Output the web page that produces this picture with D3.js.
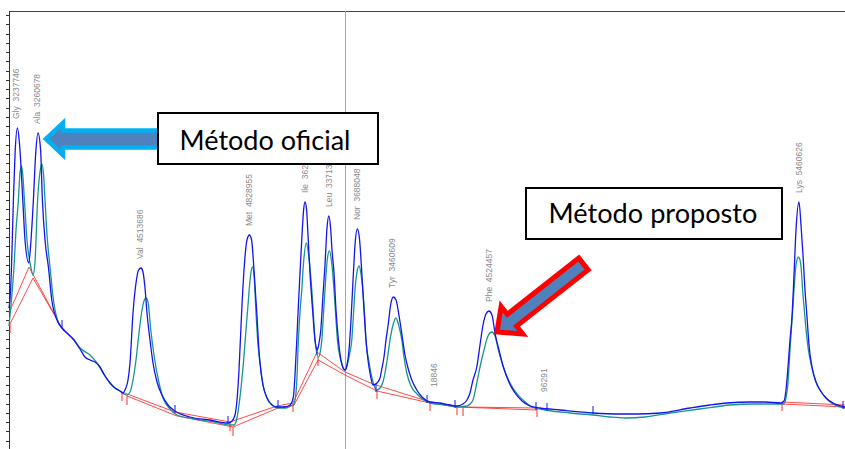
<!DOCTYPE html>
<html><head><meta charset="utf-8">
<script src="https://cdn.jsdelivr.net/npm/d3@7"></script>
<style>html,body{margin:0;padding:0;background:#fff;overflow:hidden}</style>
</head><body>
<svg id="c" width="845" height="449"></svg>
<script>
// ---- DATA (retention time in min, signal in mV) ----
const blueTrace = [[0,70.5],[0.08,79.5],[0.15,99.5],[0.22,124.5],[0.30,147],[0.42,160.5],[0.53,152],[0.69,124.5],[0.80,104.5],[0.99,93],
[1.10,104.5],[1.22,124.5],[1.33,147],[1.45,158],[1.58,149.5],[1.67,124.5],[1.80,104.5],[1.97,91],[2.14,74.5],[2.40,64.5],[2.65,60.5],
[2.90,58],[3.25,54.5],[3.55,50],[3.80,46],[4.05,44.5],[4.30,43.5],[4.55,41],[4.80,36.5],[5.05,33],[5.30,30.5],[5.55,29],[5.70,28],
[5.80,29.5],[5.95,34.5],[6.05,43],[6.20,68],[6.35,83],[6.48,89.5],[6.60,90.5],[6.70,88.5],[6.80,80.5],[6.90,68],[7.05,54.5],[7.20,43],
[7.40,33.5],[7.65,27],[7.95,22],[8.30,19],[9.05,16],[10.05,14.5],[10.95,13],
[11.15,14],[11.30,17],[11.40,24.5],[11.50,39.5],[11.63,68],[11.75,89.5],[11.90,104.5],[12.02,107],[12.13,104.5],[12.25,89.5],[12.39,68],
[12.48,52],[12.55,43],[12.70,32],[12.90,25.5],[13.15,22],[13.40,21],[13.80,21],[14.05,22],
[14.15,23.5],[14.23,27],[14.30,37],[14.39,54.5],[14.47,72],[14.55,88],[14.65,107],[14.73,119.5],[14.80,123.5],[14.88,119.5],[14.95,107],
[15.05,88],[15.18,69.5],[15.30,54.5],[15.42,49.5],
[15.50,53],[15.59,59.5],[15.70,77],[15.80,92],[15.90,110.5],[15.99,116.5],[16.08,110.5],[16.15,99.5],[16.25,88],[16.35,69.5],[16.47,54.5],
[16.60,44.5],[16.70,40.5],[16.80,39.5],
[16.90,42],[17.00,49.5],[17.10,64.5],[17.22,88],[17.30,102],[17.42,110],[17.53,104.5],[17.64,88],[17.75,69.5],[17.85,54.5],[17.95,44.5],
[18.05,38],[18.20,32],
[18.40,33],[18.55,35.5],[18.65,40.5],[18.75,46],[18.85,54.5],[18.97,63],[19.08,72],[19.22,76],[19.35,74.5],[19.52,65.5],[19.65,57],
[19.80,47],[19.95,40.5],[20.14,34.5],[20.39,29.5],[20.65,26],[21.05,23.5],[21.55,23],[22.05,22],[22.40,21.5],[22.70,22.5],
[22.90,24.5],[23.05,28],[23.20,34.5],[23.39,41],[23.55,52],[23.70,62],[23.85,67.5],[24.00,69],[24.15,67],[24.30,58],[24.50,49.5],
[24.72,41],[24.95,34.5],[25.30,28],[25.65,24],[26.05,21.5],[26.55,20.5],[27.55,19.5],[29.20,18],[30.55,17.5],[31.35,17.5],[32.55,18],
[34.05,20.5],[35.05,22],[35.90,23],[37.05,23.5],[37.80,23.5],[38.60,23],
[38.75,24],[38.85,29.5],[38.95,41],[39.05,54.5],[39.15,66],[39.25,87],[39.35,109.5],[39.50,123.5],[39.60,112],[39.70,97],[39.80,79.5],
[39.90,66],[40.00,52],[40.15,41],[40.35,33.5],[40.55,29.5],[40.85,25.5],[41.20,23],[41.80,21]];

const greenTrace = [[0,61.5],[0.10,72],[0.25,91],[0.35,109.5],[0.47,124.5],[0.54,137],[0.62,141.5],[0.69,137],[0.77,124.5],[0.90,104.5],
[1.09,91],[1.20,87],[1.30,93.5],[1.43,124.5],[1.55,138.5],[1.64,142.5],[1.73,137],[1.80,124.5],[1.90,107],[2.05,91],[2.22,74.5],
[2.42,64.5],[2.65,60.5],[2.90,58],[3.25,54.5],[3.55,50.5],[4.05,47],[4.40,43],[4.80,36.5],[5.05,33],[5.30,30.5],[5.55,29],[5.75,27.5],
[5.90,27],
[6.05,28.5],[6.20,34.5],[6.35,44.5],[6.50,58],[6.65,69.5],[6.75,74],[6.85,75.5],[6.95,73.5],[7.09,59.5],[7.25,47],[7.47,34.5],[7.70,25.5],
[8.05,20],[8.40,17],[9.30,15],[10.30,13.5],[11.05,12],
[11.25,12],[11.40,15.5],[11.55,26],[11.72,43],[11.85,59.5],[11.95,72],[12.08,87],[12.17,91],[12.25,87],[12.35,68],[12.45,52],[12.55,43],
[12.70,32],[12.90,25.5],[13.15,22],[13.45,20.5],[13.85,20.5],[14.10,21.5],
[14.22,22],[14.30,24.5],[14.38,32],[14.47,54.5],[14.55,68.5],[14.64,79.5],[14.73,93.5],[14.87,103],[14.98,97],[15.14,79.5],[15.23,65.5],
[15.30,54.5],[15.47,46],
[15.58,49.5],[15.64,54.5],[15.73,68.5],[15.80,79.5],[15.90,93.5],[16.02,99],[16.13,93.5],[16.25,79.5],[16.35,64.5],[16.42,54.5],[16.55,46],
[16.68,41.5],[16.80,39.5],
[16.95,43.5],[17.05,48.5],[17.14,54.5],[17.23,68.5],[17.30,79.5],[17.40,88.5],[17.50,91.5],[17.60,87.5],[17.69,79.5],[17.78,67],[17.85,54.5],
[18.00,43.5],[18.15,35.5],[18.39,29.5],
[18.55,30.5],[18.70,33.5],[18.80,38],[18.93,46],[19.05,54.5],[19.20,62],[19.34,65.5],[19.48,62],[19.64,54.5],[19.75,46],[19.89,38],
[20.10,31.5],[20.40,27.5],[20.75,24.5],[21.05,23],[21.80,22],[22.40,21],[22.90,21.5],
[23.05,22.5],[23.20,24.5],[23.39,33],[23.55,41],[23.75,49.5],[23.95,56.5],[24.14,58.5],[24.30,56.5],[24.47,49.5],[24.70,41.5],[25.05,33],
[25.40,27.5],[25.75,24],[26.15,21],[26.80,19.5],[28.05,18],[29.20,17],[30.05,16],[30.80,15.5],[31.80,16],[33.05,18],[34.55,20],
[36.05,22],[37.25,22.5],[38.05,22.5],[38.75,22.5],
[38.85,25.5],[38.95,33],[39.05,49.5],[39.15,64.5],[39.25,79.5],[39.35,92],[39.47,96],[39.58,93],[39.70,77],[39.83,62],[39.97,49.5],
[40.15,40.5],[40.35,33.5],[40.55,29.5],[40.85,25.5],[41.20,22.5],[41.80,20.5]];

// integration baselines (segments)
const baselineBlue = [
  [[0,68],[1.0,91],[2.45,64]],
  [[5.65,28.5],[8.3,18.5],[11.05,13.5],[13.4,21.5],[14.2,23],[15.4,48.5],[16.8,38.5],[18.2,32.5],[21.05,23.5],[22.4,21.5]],
  [[22.7,21],[26.4,20.5]],
  [[38.65,23.5],[41.8,22]]
];
const baselineGreen = [
  [[0.05,62.5],[1.2,85.5],[2.65,60.5]],
  [[5.9,26.5],[8.4,16.5],[11.2,11],[13.45,20.5],[14.25,22],[15.45,44.5],[16.8,37],[18.4,29],[21.05,23],[22.4,21]],
  [[22.4,21],[26.4,19.5]],
  [[38.65,22.5],[41.8,21]]
];
const baselineMarks = [[0.05,62.5],[5.65,28.5],[5.9,26.5],[11.05,13.5],[11.2,11],[14.2,23],[15.45,46],[18.4,29.5],[21.05,23.5],[22.4,21.5],[22.7,21],[26.4,20.5],[38.65,23.5]];
const peakMarks = [[2.65,61],[8.3,18.5],[10.95,13],[13.45,21],[15.4,47.5],[18.35,29],[20.9,23.5],[22.3,21],[26.35,20],[26.9,19.5],[29.2,18],[41.7,20.5]];

const peakNames  = ["Gly","Ala","Val","Met","Ile","Leu","Nor","","Tyr","Phe","","Lys"];
const peakAreas  = ["3237746","3260678","4513686","4828955","3627418","3371305","3688048","18846","3460609","4524457","96291","5460626"];
const peakTimes  = [0.37,1.42,6.57,12.0,14.8,16.0,17.42,21.25,19.17,24.0,26.75,39.5];
const peakHeights= [160.5,158,90.5,107,123.5,116.5,110,26.5,76,69,24,123.5];

const cursorTime = 16.83;
const calloutTexts = ["Método oficial","Método proposto"];

// ---- DRAW ----
const svg = d3.select("#c");
const x = d3.scaleLinear().domain([0,41.8]).range([9,845]);
const y = d3.scaleLinear().domain([0,219]).range([449,11]);

// frame top
svg.append("line").attr("x1",x(0)).attr("x2",x(41.8)).attr("y1",y(219)).attr("y2",y(219))
  .attr("stroke","#444").attr("stroke-width",1).attr("shape-rendering","crispEdges");

// left axis
const yAxis = d3.axisLeft(y).tickValues(d3.range(217,0,-4.625)).tickSize(3).tickSizeOuter(0).tickFormat("");
const ga = svg.append("g").attr("transform",`translate(${x(0)},0)`).call(yAxis);
ga.selectAll("path,line").attr("stroke","#333").attr("shape-rendering","crispEdges");

// cursor line
svg.append("line").attr("x1",x(cursorTime)).attr("x2",x(cursorTime)).attr("y1",y(219)).attr("y2",y(0))
  .attr("stroke","#a6a6a6").attr("stroke-width",1).attr("shape-rendering","crispEdges");

const lin = d3.line().x(d=>x(d[0])).y(d=>y(d[1]));
const smooth = d3.line().x(d=>x(d[0])).y(d=>y(d[1])).curve(d3.curveMonotoneX);

// baselines
svg.append("g").selectAll("path").data(baselineBlue.concat(baselineGreen)).join("path")
  .attr("d",lin).attr("fill","none").attr("stroke","#ff2a2a").attr("stroke-width",1).attr("stroke-opacity",0.85);
svg.append("g").selectAll("line").data(baselineMarks).join("line")
  .attr("x1",d=>x(d[0])).attr("x2",d=>x(d[0])).attr("y1",d=>y(d[1])).attr("y2",d=>y(d[1])+9)
  .attr("stroke","#ff2a2a").attr("stroke-width",1);

// traces
svg.append("path").datum(greenTrace).attr("d",smooth).attr("fill","none").attr("stroke","#17968c").attr("stroke-width",1.3);
svg.append("path").datum(blueTrace).attr("d",smooth).attr("fill","none").attr("stroke","#1414f0").attr("stroke-width",1.3);

svg.append("g").selectAll("line").data(peakMarks).join("line")
  .attr("x1",d=>x(d[0])).attr("x2",d=>x(d[0])).attr("y1",d=>y(d[1])+1).attr("y2",d=>y(d[1])-7)
  .attr("stroke","#1414f0").attr("stroke-width",1);

// peak labels
svg.append("g").selectAll("text").data(peakTimes.map((t,i)=>i)).join("text")
  .attr("transform",i=>`translate(${x(peakTimes[i])},${y(peakHeights[i])-9}) rotate(-90)`)
  .attr("dy","0.35em").attr("text-anchor","start")
  .attr("font-family","'Liberation Sans', Arial, sans-serif").attr("font-size",8.5)
  .attr("fill","#8a8a8a").style("white-space","pre")
  .text(i=> peakNames[i] ? peakNames[i]+"  "+peakAreas[i] : peakAreas[i]);

// arrows
function arrowPath(len, sh, hh, hl){
  return `M0,0 L${hl},${-hh} L${hl},${-sh} L${len},${-sh} L${len},${sh} L${hl},${sh} L${hl},${hh} Z`;
}
svg.append("path").attr("d",arrowPath(118,8.5,16,17)).attr("transform","translate(46,139)")
  .attr("fill","#4f81bd").attr("stroke","#00b0f0").attr("stroke-width",4.5).attr("stroke-linejoin","miter");
svg.append("path").attr("d",arrowPath(110,7.5,17.5,19)).attr("transform","translate(497,332) rotate(-38.2)")
  .attr("fill","#4f81bd").attr("stroke","#ff0000").attr("stroke-width",5).attr("stroke-linejoin","miter");

// callout boxes
const boxes = [{x:158,y:113,w:220,h:51,cx:265,by:150,tw:171},{x:526,y:188,w:256,h:51,cx:653,by:223,tw:209}];
boxes.forEach((b,i)=>{
  svg.append("rect").attr("x",b.x).attr("y",b.y).attr("width",b.w).attr("height",b.h)
    .attr("fill","#fff").attr("stroke","#000").attr("stroke-width",2);
  const t = svg.append("text").attr("x",b.cx).attr("y",b.by).attr("text-anchor","middle")
    .attr("font-family","Lato, 'Open Sans', sans-serif").attr("font-size",26).attr("fill","#000")
    .text(calloutTexts[i]);
  const w = t.node().getComputedTextLength();
  t.attr("font-size", 26*b.tw/w);
});
</script>
</body></html>
